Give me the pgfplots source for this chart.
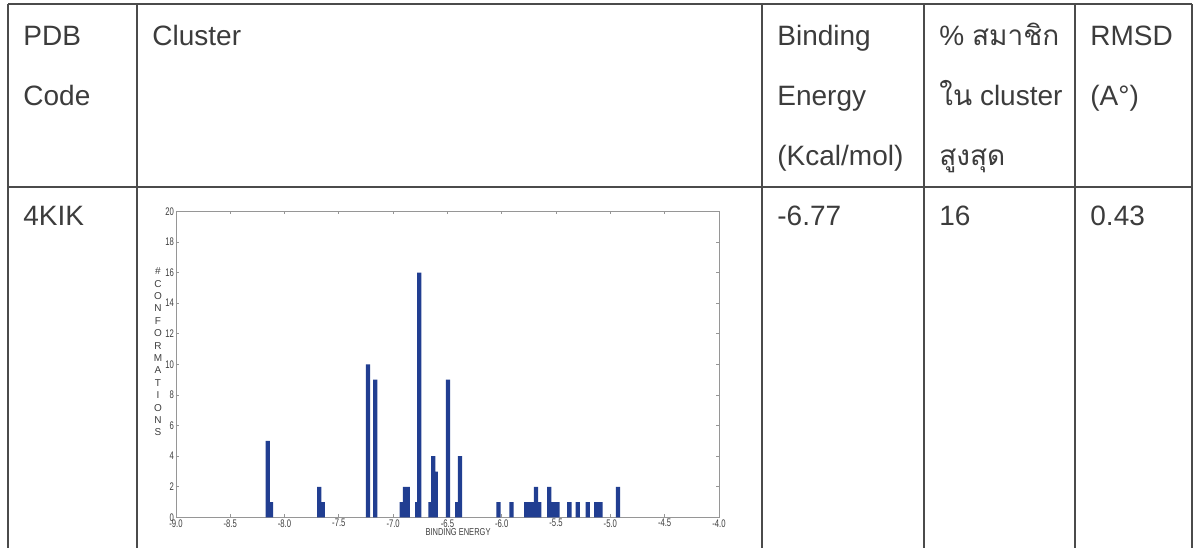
\documentclass[border=0pt]{standalone}
\usepackage{pgfplots}
\pgfplotsset{compat=1.18}
\usepackage{fontspec}
\setmainfont{Liberation Sans}
\newfontfamily\thaifont[Script=Thai]{Loma}
\definecolor{txt}{RGB}{60,60,60}
\definecolor{rule}{RGB}{75,75,75}
\definecolor{barblue}{RGB}{33,62,145}
\definecolor{axgray}{RGB}{150,150,150}

\pgfplotstableread{
E      n
-8.155 5
-8.125 1
-7.680 2
-7.648 1
-7.232 10
-7.165 9
-6.920 1
-6.890 2
-6.865 2
-6.778 1
-6.760 16
-6.655 1
-6.630 4
-6.608 3
-6.495 9
-6.410 1
-6.385 4
-6.030 1
-5.910 1
-5.775 1
-5.745 1
-5.715 1
-5.685 2
-5.655 1
-5.563 2
-5.525 1
-5.488 1
-5.377 1
-5.300 1
-5.208 1
-5.130 1
-5.090 1
-4.930 2
}\hist

\begin{document}
\begin{tikzpicture}[x=0.5pt,y=0.5pt]
\path[use as bounding box] (0,0) rectangle (1198,548);
% table rules
\begin{scope}[rule, line width=0.8pt]
\draw (8,{548-4}) -- (1192,{548-4});
\draw (8,{548-187}) -- (1192,{548-187});
\foreach \xx in {8,137,762,924,1075,1192} {\draw (\xx,{548-4}) -- (\xx,0);}
\end{scope}
% header text
\begin{scope}[every node/.style={anchor=base west, text=txt, inner sep=0pt, font=\fontsize{14}{16}\selectfont}]
\node at (23,{548-45}) {PDB};
\node at (23,{548-105}) {Code};
\node at (152,{548-45}) {Cluster};
\node at (777,{548-45}) {Binding};
\node at (777,{548-105}) {Energy};
\node at (777,{548-165}) {(Kcal/mol)};
\node at (939,{548-45}) {\% {\thaifont สมาชิก}};
\node at (939,{548-105}) {{\thaifont ใน} cluster};
\node at (939,{548-165}) {{\thaifont สูงสุด}};
\node at (1090,{548-45}) {RMSD};
\node at (1090,{548-105}) {(A°)};
\node at (23,{548-225}) {4KIK};
\node at (777,{548-225}) {-6.77};
\node at (939,{548-225}) {16};
\node at (1090,{548-225}) {0.43};
\end{scope}
% chart
\begin{axis}[
  at={(162,{548-528})}, anchor=south west,
  scale only axis, width=271.5pt, height=153pt,
  xmin=-9, xmax=-4, ymin=0, ymax=20,
  xtick={-9,-8.5,...,-4}, ytick={0,2,...,20},
  /pgf/number format/assume math mode=true,
  axis line style={axgray, line width=0.4pt},
  tick style={axgray, line width=0.4pt},
  tick align=inside, major tick length=1.5pt,
  ticklabel style={text=txt, font=\fontsize{5.5}{6.5}\selectfont, inner sep=0.8pt},
  xticklabel={\scalebox{0.7}[1]{\pgfmathprintnumber[fixed,precision=1,zerofill]{\tick}}},
  yticklabel={\scalebox{0.7}[1]{\pgfmathprintnumber[fixed,precision=0]{\tick}}},
  clip=false,
]
\addplot[ybar, bar width=0.04, bar shift=0pt, fill=barblue, draw=none] table[x=E, y=n] {\hist};
\end{axis}
\node[text=txt, align=center, inner sep=0pt, font=\fontsize{5}{6.2}\selectfont] at (158,{548-352})
  {\#\\C\\O\\N\\F\\O\\R\\M\\A\\T\\I\\O\\N\\S};
\node[text=txt, inner sep=0pt, font=\fontsize{5}{6}\selectfont] at (458,{548-532})
  {\scalebox{0.75}[1]{BINDING ENERGY}};
\end{tikzpicture}
\end{document}
